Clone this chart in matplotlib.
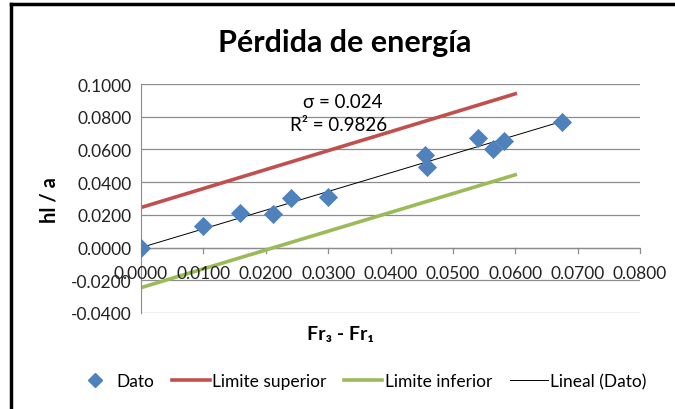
import numpy as np
import matplotlib.pyplot as plt
from matplotlib.lines import Line2D

plt.rcParams['font.family'] = ['Lato', 'DejaVu Sans']

# measured points
fr_diff = [0.0000, 0.0099, 0.0159, 0.0211, 0.0241, 0.0299, 0.0456, 0.0459, 0.0540, 0.0564, 0.0582, 0.0675]
hl_a = [0.0000, 0.0130, 0.0212, 0.0206, 0.0304, 0.0308, 0.0565, 0.0494, 0.0671, 0.0604, 0.0654, 0.0769]

# limit lines (end points)
lim_x = [0.0, 0.060]
lim_sup = [0.0245, 0.0940]
lim_inf = [-0.0245, 0.0445]

x_ticks = [0.0, 0.01, 0.02, 0.03, 0.04, 0.05, 0.06, 0.07, 0.08]
y_ticks = [-0.04, -0.02, 0.0, 0.02, 0.04, 0.06, 0.08, 0.10]

x = np.array(fr_diff)
y = np.array(hl_a)
slope = np.sum(x * y) / np.sum(x * x)  # trend through origin

fig = plt.figure(figsize=(6.75, 4.1), dpi=100)
ax = fig.add_axes([141/675, 1 - 314/410, 499/675, 229/410])

for yt in y_ticks:
    ax.axhline(yt, color='#8c8c8c', lw=0.9, zorder=0)

ax.plot(lim_x, lim_sup, color='#c0504d', lw=2.6, zorder=2)
ax.plot(lim_x, lim_inf, color='#9bbb59', lw=2.6, zorder=2)
ax.plot([0, x.max()], [0, slope * x.max()], color='black', lw=0.7, zorder=3)
ax.scatter(x, y, marker='D', s=95, color='#4f81bd', zorder=4, linewidths=0)

ax.set_xlim(0, 0.08)
ax.set_ylim(-0.04, 0.10)
for s in ['top', 'right', 'bottom']:
    ax.spines[s].set_visible(False)
ax.spines['left'].set_color('#8c8c8c')
ax.set_yticks(y_ticks)
ax.set_yticklabels(['%.4f' % v for v in y_ticks])
ax.tick_params(axis='y', length=0, pad=7, labelsize=12.5, labelcolor='#222222')
ax.set_xticks([])

# x axis at y=0 with ticks and labels
ax.axhline(0, color='#8c8c8c', lw=0.9, zorder=1)
for xt in x_ticks:
    ax.plot([xt, xt], [0, -0.0035], color='#8c8c8c', lw=0.9, clip_on=False, zorder=1)
    ax.text(xt, -0.0153, '%.4f' % xt, ha='center', va='center', fontsize=12.5, color='#222222')

ax.text(0.0324, 0.0893, 'σ = 0.024', ha='center', va='center', fontsize=13.5)
ax.text(0.0317, 0.0752, 'R² = 0.9826', ha='center', va='center', fontsize=13.5)

fig.text(0.511, 0.895, 'Pérdida de energía', ha='center', va='center', fontsize=22, fontweight='bold')
fig.text(0.074, 0.512, 'hl / a', ha='center', va='center', rotation=90, fontsize=14.5, fontweight='bold')
fig.text(0.505, 0.183, 'Fr₃ - Fr₁', ha='center', va='center', fontsize=14, fontweight='bold')

# chart border (top and left)
fig.add_artist(Line2D([11/675, 1], [1 - 5/410, 1 - 5/410], color='black', lw=2.5))
fig.add_artist(Line2D([11/675, 11/675], [0, 1 - 5/410], color='black', lw=2.5))

handles = [
    Line2D([], [], marker='D', color='#4f81bd', ls='none', markersize=7),
    Line2D([], [], color='#c0504d', lw=2.6),
    Line2D([], [], color='#9bbb59', lw=2.6),
    Line2D([], [], color='black', lw=0.7),
]
labels = ['Dato', 'Limite superior', 'Limite inferior', 'Lineal (Dato)']
fig.legend(handles, labels, loc='center', bbox_to_anchor=(0.535, 0.068), ncol=4, frameon=False,
           fontsize=12.5, handlelength=2.2, handletextpad=0.15, columnspacing=1.0)

fig.savefig('out.png', dpi=100)
